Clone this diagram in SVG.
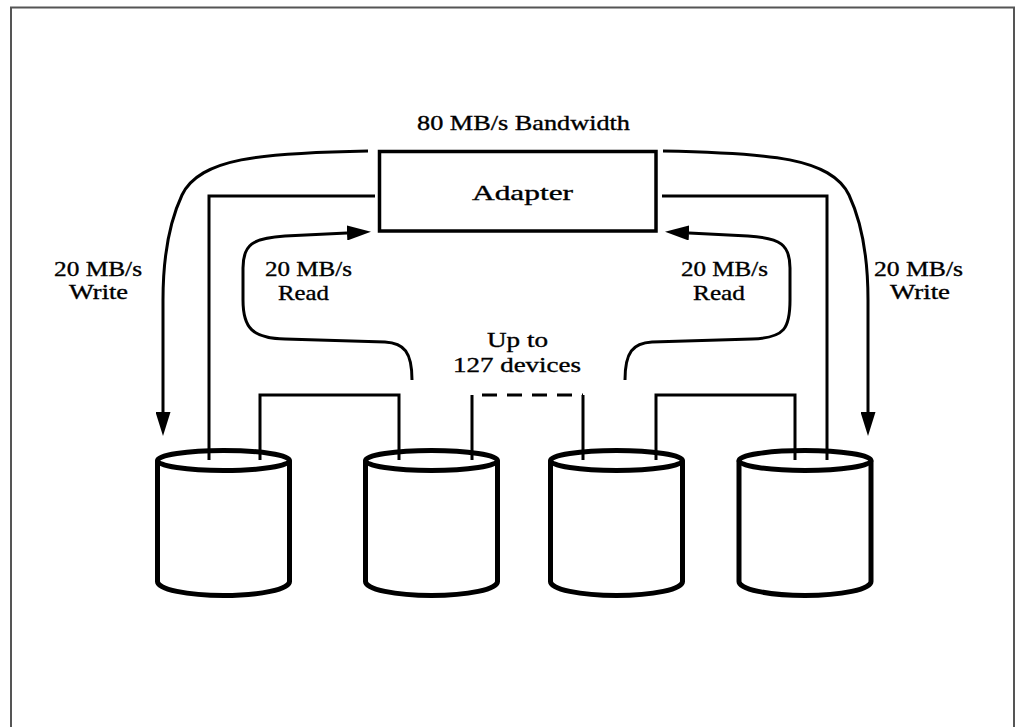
<svg xmlns="http://www.w3.org/2000/svg" width="1015" height="727" viewBox="0 0 1015 727">
<style>
.t{font-family:"Liberation Serif","Times New Roman",serif;font-size:21px;fill:#000;stroke:#000;stroke-width:0.35}
.ln{fill:none;stroke:#000;stroke-width:3}
.disk{fill:#fff;stroke:#000;stroke-width:5}
</style>
<defs>
<marker id="ah" markerUnits="userSpaceOnUse" markerWidth="24" markerHeight="15" viewBox="0 0 24 15" refX="0" refY="7.5" orient="auto">
<path d="M0,0 L24,7.5 L0,15 z" fill="#000"/>
</marker>
<g id="cyl">
<path d="M-66,0 L-66,121 A66,14 0 0 0 66,121 L66,0" class="disk"/>
<ellipse cx="0" cy="0" rx="66" ry="10" class="disk"/>
</g>
</defs>
<rect x="11" y="7.5" width="1003" height="750" fill="#fff" stroke="#555" stroke-width="2"/>

<g id="adapter">
<rect x="379.5" y="151.5" width="276.5" height="79.5" fill="#fff" stroke="#000" stroke-width="3.5"/>
<text class="t" x="472" y="200" font-size="27" textLength="101" lengthAdjust="spacingAndGlyphs">Adapter</text>
</g>
<g id="bandwidth-label">
<text class="t" x="417" y="130" font-size="22" textLength="213" lengthAdjust="spacingAndGlyphs">80 MB/s Bandwidth</text>
</g>

<g id="disk1"><use href="#cyl" x="223.5" y="460.5"/></g>
<g id="disk2"><use href="#cyl" x="431.5" y="460.5"/></g>
<g id="disk3"><use href="#cyl" x="616.5" y="460.5"/></g>
<g id="disk4"><use href="#cyl" x="805" y="460.5"/></g>

<g id="connectors">
<path class="ln" d="M375,196 L209,196 L209,460"/>
<path class="ln" d="M662,196 L827,196 L827,460"/>
<path class="ln" d="M260,460 L260,395 L399,395 L399,460"/>
<path class="ln" d="M472,460 L472,395 M583,395 L583,460"/>
<path class="ln" d="M472,395 L583,395" stroke-dasharray="15 10" stroke-dashoffset="-10" stroke-width="3.5"/>
<path class="ln" d="M656,460 L656,395 L795,395 L795,460"/>
<path class="ln" d="M368,151 C260,153 200,158 182,195 C168,225 163,260 163,300 L163,412" marker-end="url(#ah)"/>
<path class="ln" d="M663,151 C771,153 831,158 849,195 C863,225 868,260 868,300 L868,412" marker-end="url(#ah)"/>
<path class="ln" d="M412,380 C412,352 404,343 385,342 L285,339 C252,338 243,328 243,300 L243,268 C243,245 252,238 285,236 L347,233" marker-end="url(#ah)"/>
<path class="ln" d="M625,380 C625,352 633,343 652,342 L752,339 C785,338 790,328 790,300 L790,268 C790,245 781,238 748,236 L689,233" marker-end="url(#ah)"/>
</g>

<g id="labels">
<text class="t" x="54" y="276" textLength="88" lengthAdjust="spacingAndGlyphs">20 MB/s</text>
<text class="t" x="69" y="299" textLength="59" lengthAdjust="spacingAndGlyphs">Write</text>
<text class="t" x="874" y="276" textLength="89" lengthAdjust="spacingAndGlyphs">20 MB/s</text>
<text class="t" x="890" y="299" textLength="60" lengthAdjust="spacingAndGlyphs">Write</text>
<text class="t" x="265" y="276" textLength="87" lengthAdjust="spacingAndGlyphs">20 MB/s</text>
<text class="t" x="278" y="300" textLength="51" lengthAdjust="spacingAndGlyphs">Read</text>
<text class="t" x="681" y="276" textLength="87" lengthAdjust="spacingAndGlyphs">20 MB/s</text>
<text class="t" x="693" y="300" textLength="52" lengthAdjust="spacingAndGlyphs">Read</text>
<text class="t" x="487" y="347" textLength="61" lengthAdjust="spacingAndGlyphs">Up to</text>
<text class="t" x="453" y="372" textLength="128" lengthAdjust="spacingAndGlyphs">127 devices</text>
</g>
</svg>
